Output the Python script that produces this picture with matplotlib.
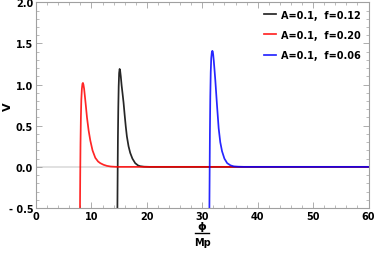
import matplotlib
matplotlib.use("Agg")
import matplotlib.pyplot as plt
from matplotlib.ticker import MultipleLocator

plt.rcParams['font.family'] = ['DejaVu Sans']

labels = ["A=0.1,  f=0.12", "A=0.1,  f=0.20", "A=0.1,  f=0.06"]
colors = ["black", "red", "blue"]

x_black = [14.68, 14.73, 14.78, 14.85, 14.92, 15.00, 15.09, 15.18, 15.30, 15.45, 15.62, 15.80,
           16.00, 16.20, 16.40, 16.70, 17.00, 17.40, 17.90, 18.40, 18.80, 19.50, 20.5, 60.0]
y_black = [-0.60, -0.10, 0.35, 0.72, 0.98, 1.14, 1.19, 1.17, 1.10, 0.99, 0.89, 0.78,
           0.63, 0.49, 0.37, 0.25, 0.17, 0.10, 0.045, 0.018, 0.008, 0.002, 0.0, 0.0]

x_red = [7.93, 7.98, 8.03, 8.10, 8.18, 8.28, 8.38, 8.47, 8.56, 8.68, 8.82, 9.00, 9.20,
         9.50, 9.80, 10.20, 10.70, 11.20, 11.60, 12.20, 12.80, 13.50, 14.5, 60.0]
y_red = [-0.60, -0.10, 0.28, 0.60, 0.82, 0.95, 1.01, 1.02, 1.00, 0.95, 0.86, 0.74, 0.60,
         0.44, 0.32, 0.20, 0.11, 0.065, 0.045, 0.025, 0.012, 0.004, 0.0, 0.0]

x_blue = [31.28, 31.33, 31.38, 31.45, 31.53, 31.62, 31.72, 31.82, 31.90, 31.98, 32.08, 32.20,
          32.36, 32.50, 32.65, 32.96, 33.25, 33.57, 34.00, 34.50, 35.10, 35.70, 36.5, 37.5, 60.0]
y_blue = [-0.60, -0.10, 0.40, 0.85, 1.15, 1.32, 1.39, 1.41, 1.40, 1.36, 1.29, 1.19,
          1.05, 0.91, 0.76, 0.47, 0.30, 0.19, 0.10, 0.045, 0.018, 0.006, 0.002, 0.0, 0.0]

xs = [x_black, x_red, x_blue]
ys = [y_black, y_red, y_blue]

fig = plt.figure(figsize=(3.74, 2.55), dpi=100)
ax = fig.add_axes([36/374, 1-209/255, (368.5-36)/374, (209-3.3)/255])

ax.axhline(0, color="#dcdcdc", lw=1.2, zorder=1)
for x, y, c, l in zip(xs, ys, colors, labels):
    ax.plot(x, y, color=c, lw=1.25, alpha=0.85, label=l, zorder=2, solid_joinstyle="round")

ax.set_xlim(0, 60)
ax.set_ylim(-0.5, 2.0)
ax.xaxis.set_minor_locator(MultipleLocator(2))
ax.yaxis.set_minor_locator(MultipleLocator(0.1))
ax.set_xticks([0, 10, 20, 30, 40, 50, 60])
ax.set_xticklabels(["0", "10", "20", "30", "40", "50", "60"], fontweight="bold", fontsize=7)
ax.set_yticks([-0.5, 0.0, 0.5, 1.0, 1.5, 2.0])
ax.set_yticklabels(["- 0.5", "0.0", "0.5", "1.0", "1.5", "2.0"], fontweight="bold", fontsize=7)

for s in ax.spines.values():
    s.set_color("#a0a0a0")
    s.set_linewidth(0.8)
ax.tick_params(which="both", direction="in", top=True, right=True, color="#a0a0a0", pad=2)
ax.tick_params(which="major", length=4, width=0.6)
ax.tick_params(which="minor", length=2, width=0.5)

leg = ax.legend(loc="upper right", frameon=False, prop={"weight": "bold", "size": 7},
                handlelength=1.2, labelspacing=1.05, handletextpad=0.6,
                bbox_to_anchor=(1.0, 1.0), borderaxespad=0.35)

# y label
fig.text(8/374, 1-107/255, "V", rotation=90, fontsize=8, fontweight="bold",
         ha="center", va="center")
# x label as fraction
cx = 202/374
fig.text(cx, 1-227/255, "ϕ", fontsize=8, fontweight="bold", ha="center", va="center")
fig.add_artist(plt.Line2D([cx - 7/374, cx + 7/374], [1-234/255, 1-234/255], color="black",
                          lw=1.0, transform=fig.transFigure))
fig.text(cx, 1-243/255, "Mp", fontsize=7, fontweight="bold", ha="center", va="center")

fig.savefig("out.png", dpi=100)
